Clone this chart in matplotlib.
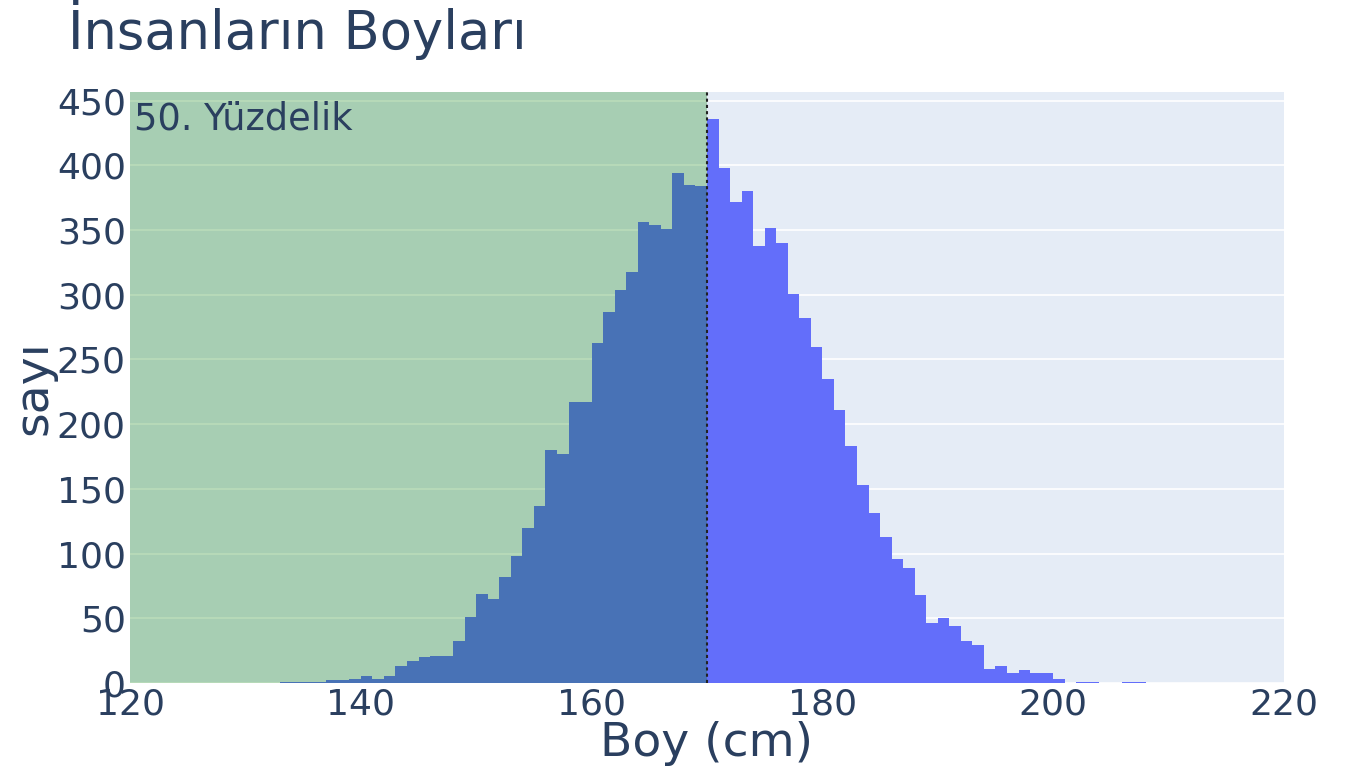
import numpy as np
import matplotlib
matplotlib.use('Agg')
import matplotlib.pyplot as plt

#Data (1 cm bins, left edges)
bin_start = 133
counts = [1, 1, 1, 1, 2, 2, 3, 5, 3, 5, 13, 17, 20, 21, 21, 32, 51, 69, 65, 82,
          98, 120, 137, 180, 177, 217, 217, 263, 287, 304, 318, 356, 354, 351, 394, 385, 384,
          436, 398, 372, 380, 338, 352, 340, 301, 282, 260, 235, 211, 183, 153, 131, 113,
          96, 89, 68, 46, 50, 44, 32, 29, 11, 13, 8, 10, 8, 8, 3, 0, 1, 1, 0, 0, 1, 1]
edges = np.arange(bin_start, bin_start + len(counts) + 1)
median = 170
title = 'İnsanların Boyları'
note = '50. Yüzdelik'

txt = '#2a3f5f'
fig = plt.figure(figsize=(13.6, 7.84), dpi=100)
ax = fig.add_axes([0.0956, 0.129, 0.8485, 0.754])
ax.set_facecolor('#E5ECF6')
ax.stairs(counts, edges, fill=True, color='#636EFA', zorder=2)
ax.axvspan(120, median, color='#008000', alpha=0.27, lw=0, zorder=3)
ax.axvline(median, color='#222222', ls=(0, (1.5, 1.5)), lw=1.5, zorder=4)
ax.text(120.35, 436, note, fontsize=26.5, color=txt, va='center', ha='left', zorder=5)

ax.set_xlim(120, 220)
ax.set_ylim(0, 457)
ax.set_xticks(range(120, 221, 20))
ax.set_yticks(range(0, 451, 50))
ax.grid(True, color='white', lw=1.2, axis='y', zorder=1)
ax.set_axisbelow(True)
for s in ax.spines.values():
    s.set_visible(False)
ax.tick_params(length=0, labelsize=26, labelcolor=txt, pad=3)
ax.set_xlabel('Boy (cm)', fontsize=34, color=txt, labelpad=0)
ax.set_ylabel('sayı', fontsize=34, color=txt, labelpad=0)
fig.text(0.05, 0.962, title, fontsize=38, color=txt, va='center', ha='left')
fig.savefig('out.png')
